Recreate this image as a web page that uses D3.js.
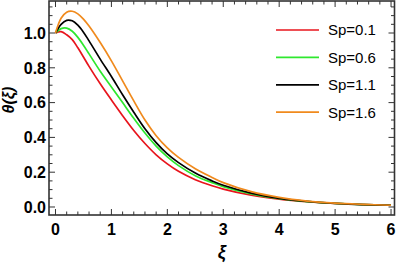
<!DOCTYPE html>
<html>
<head>
<meta charset="utf-8">
<script src="https://cdn.jsdelivr.net/npm/d3@7"></script>
<style>
  body { margin: 0; background: #fff; }
  svg { display: block; font-family: "Liberation Sans", Arial, sans-serif; }
</style>
</head>
<body>
<div id="chart"></div>
<script>
const xi = [0, 0.1, 0.2, 0.3, 0.4, 0.5, 0.6, 0.8, 1.0, 1.2, 1.4, 1.6, 1.8, 2.0, 2.2, 2.5, 2.8, 3.0, 3.5, 4.0, 4.5, 5.0, 5.5, 6.0]

const sp01 = [1.0, 1.008, 0.99, 0.962, 0.915, 0.862, 0.808, 0.708, 0.615, 0.525, 0.44, 0.365, 0.30, 0.248, 0.205, 0.157, 0.122, 0.103, 0.068, 0.045, 0.030, 0.020, 0.014, 0.010]
const sp06 = [1.0, 1.025, 1.028, 1.01, 0.975, 0.93, 0.88, 0.78, 0.69, 0.60, 0.51, 0.425, 0.35, 0.288, 0.238, 0.180, 0.140, 0.117, 0.075, 0.048, 0.031, 0.021, 0.014, 0.010]
const sp11 = [1.0, 1.05, 1.073, 1.07, 1.045, 1.005, 0.955, 0.85, 0.75, 0.645, 0.545, 0.45, 0.37, 0.305, 0.255, 0.195, 0.150, 0.125, 0.080, 0.050, 0.032, 0.021, 0.014, 0.010]
const sp16 = [1.0, 1.085, 1.12, 1.125, 1.11, 1.08, 1.04, 0.945, 0.84, 0.725, 0.61, 0.50, 0.41, 0.34, 0.285, 0.220, 0.170, 0.140, 0.088, 0.055, 0.034, 0.022, 0.015, 0.010]

const labels = ['Sp=0.1', 'Sp=0.6', 'Sp=1.1', 'Sp=1.6']
const colors = ['#e8141c', '#2ee82e', '#000000', '#f08a1d']
const xTicks = [0, 1, 2, 3, 4, 5, 6]
const yTicks = [0, 0.2, 0.4, 0.6, 0.8, 1.0]

const series = [sp01, sp06, sp11, sp16].map((vals, i) => ({
    label: labels[i],
    color: colors[i],
    points: vals.map((v, j) => ({ x: xi[j], y: v }))
}))

const W = 400, H = 264
const plot = { left: 49, right: 394.5, top: 1, bottom: 215 }

const xScale = d3.scaleLinear().domain([-0.116, 6.062]).range([plot.left, plot.right])
const yScale = d3.scaleLinear().domain([-0.046, 1.184]).range([plot.bottom, plot.top])

const svg = d3.select('#chart').append('svg')
    .attr('width', W)
    .attr('height', H)

// minor tick values
const xMinor = d3.range(0, 6.01, 0.2)
const yMinor = d3.range(0, 1.1801, 0.05)
const isMajorX = v => Math.abs(v - Math.round(v)) < 1e-6
const isMajorY = v => Math.abs(v * 5 - Math.round(v * 5)) < 1e-6

const frame = svg.append('g')

// ticks, pointing inwards on all four sides
xMinor.forEach(v => {
    const len = isMajorX(v) ? 6 : 3.5
    const x = xScale(v)
    frame.append('line').attr('x1', x).attr('x2', x)
        .attr('y1', plot.bottom).attr('y2', plot.bottom - len)
    frame.append('line').attr('x1', x).attr('x2', x)
        .attr('y1', plot.top).attr('y2', plot.top + len)
})
yMinor.forEach(v => {
    const len = isMajorY(v) ? 6 : 3.5
    const y = yScale(v)
    frame.append('line').attr('y1', y).attr('y2', y)
        .attr('x1', plot.left).attr('x2', plot.left + len)
    frame.append('line').attr('y1', y).attr('y2', y)
        .attr('x1', plot.right).attr('x2', plot.right - len)
})
frame.selectAll('line').attr('stroke', '#333').attr('stroke-width', 1)

frame.append('rect')
    .attr('x', plot.left)
    .attr('y', plot.top)
    .attr('width', plot.right - plot.left)
    .attr('height', plot.bottom - plot.top)
    .attr('fill', 'none')
    .attr('stroke', '#333')
    .attr('stroke-width', 1.6)

// tick labels
svg.selectAll('.xlab')
    .data(xTicks)
    .enter().append('text')
    .attr('class', 'xlab')
    .attr('x', d => xScale(d))
    .attr('y', 235)
    .attr('text-anchor', 'middle')
    .style('font-size', '16px')
    .style('font-weight', 'bold')
    .text(d => d)

svg.selectAll('.ylab')
    .data(yTicks)
    .enter().append('text')
    .attr('class', 'ylab')
    .attr('x', 46)
    .attr('y', d => yScale(d))
    .attr('dy', '0.36em')
    .attr('text-anchor', 'end')
    .style('font-size', '16px')
    .style('font-weight', 'bold')
    .text(d => d3.format('.1f')(d))

// axis titles
svg.append('text')
    .attr('x', (plot.left + plot.right) / 2)
    .attr('y', 258)
    .attr('text-anchor', 'middle')
    .style('font-size', '18px')
    .style('font-weight', 'bold')
    .style('font-style', 'italic')
    .text('ξ')

svg.append('text')
    .attr('transform', 'translate(14,100) rotate(-90)')
    .attr('text-anchor', 'middle')
    .style('font-size', '16px')
    .style('font-weight', 'bold')
    .style('font-style', 'italic')
    .text('θ(ξ)')

// curves
const line = d3.line()
    .x(d => xScale(d.x))
    .y(d => yScale(d.y))
    .curve(d3.curveCatmullRom.alpha(0.5))

svg.append('g')
    .selectAll('path')
    .data(series)
    .enter().append('path')
    .attr('d', d => line(d.points))
    .attr('fill', 'none')
    .attr('stroke', d => d.color)
    .attr('stroke-width', 1.7)

// legend
const legend = svg.selectAll('.legend')
    .data(series)
    .enter().append('g')
    .attr('class', 'legend')
    .attr('transform', (d, i) => `translate(0,${30 + i * 27.4})`)

legend.append('line')
    .attr('x1', 276)
    .attr('x2', 319)
    .attr('stroke', d => d.color)
    .attr('stroke-width', 1.7)

legend.append('text')
    .attr('x', 328)
    .attr('dy', '0.36em')
    .style('font-size', '15px')
    .text(d => d.label)
</script>
</body>
</html>
